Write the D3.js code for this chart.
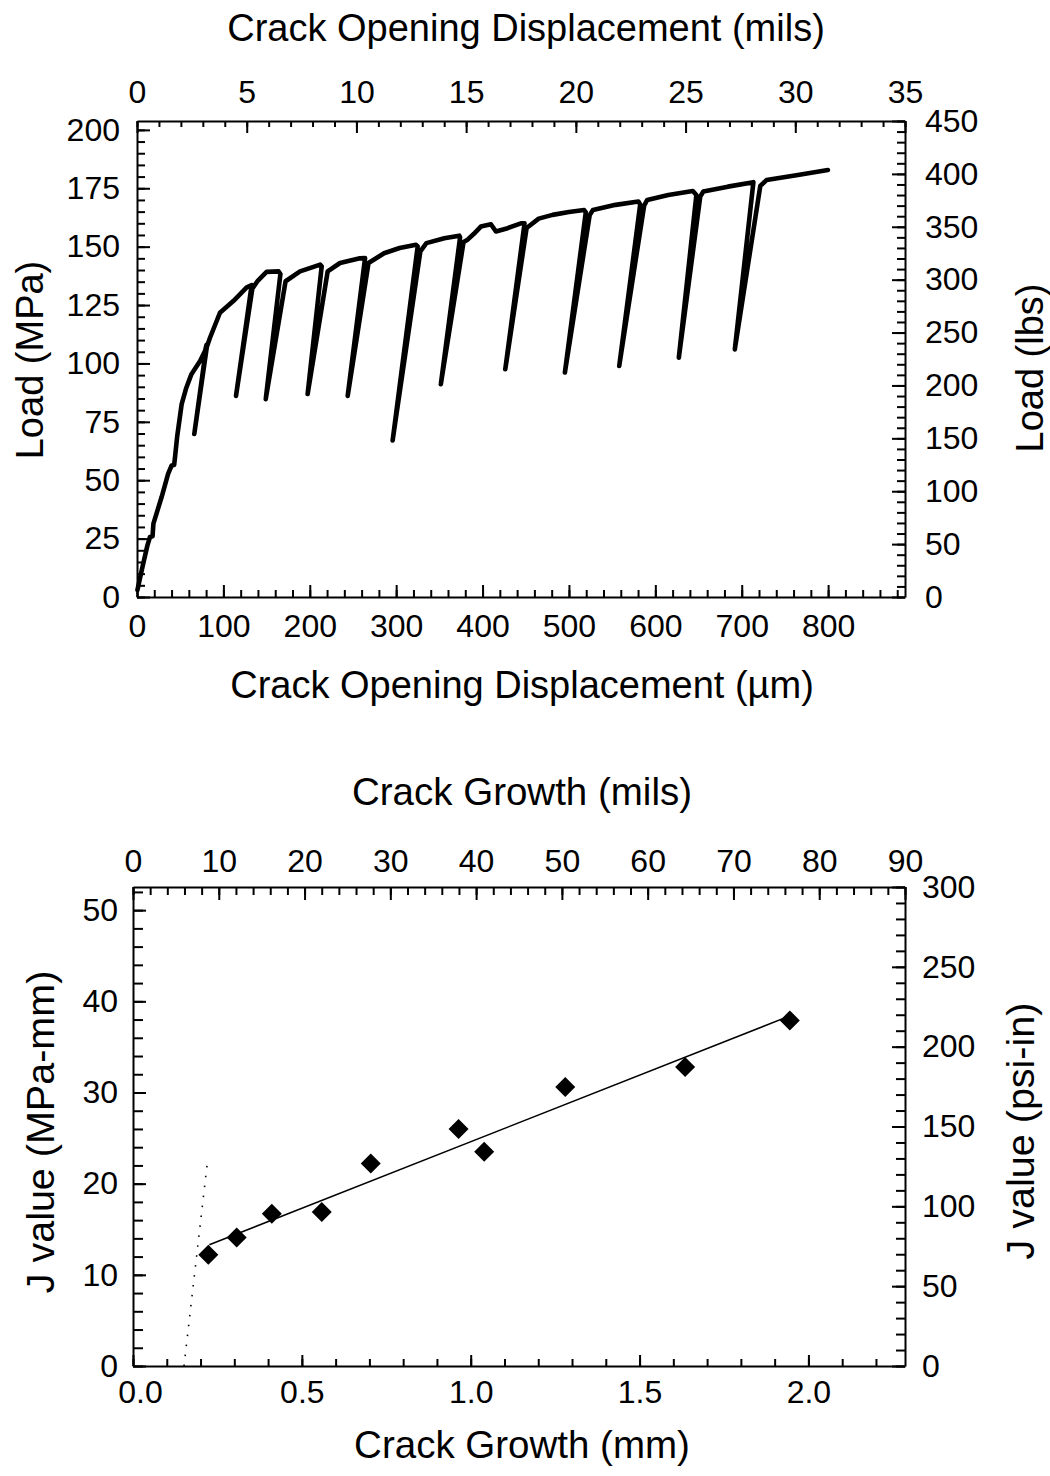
<!DOCTYPE html>
<html><head><meta charset="utf-8">
<script src="https://cdn.jsdelivr.net/npm/d3@7"></script>
<style>
html,body{margin:0;padding:0;background:#fff;}
svg{display:block;}
text{font-family:"Liberation Sans", Arial, Helvetica, sans-serif; fill:#000;}
</style></head><body>
<svg id="chart" width="1050" height="1476"></svg>
<script>
// ---------- Top chart: Load vs Crack Opening Displacement ----------
// sequence of recorded points (um, MPa) incl. unload/reload excursions
const codUm = [0.5, 4, 7.3, 12, 15, 18, 19, 28.5, 36, 40, 43, 44, 46.6, 51.7, 57, 63, 73, 78.7, 80.5,
  66.3, 80.8, 84.5, 96, 111.5, 127, 132.7,
  114.6, 133.5, 140, 150, 164, 166,
  149, 172, 188.7, 200, 212, 213.8,
  197.5, 220.7, 235, 258, 264,
  243.9, 268, 286, 304, 323, 324.9,
  295.9, 328, 335, 355.7, 373, 374,
  351.7, 378, 382.7, 390, 398, 409.7, 415.5, 429, 444.4, 448.6,
  426.3, 451, 465, 481, 500, 517.6, 519.5,
  495.3, 524, 527.8, 554, 580.4, 582.5,
  558.2, 587, 590.6, 615, 643.4, 647.5,
  627.2, 652, 655.6, 684, 713.5,
  692, 721.5, 728.7, 765, 799.8];
const loadMPa = [3, 9, 14.4, 22, 25.7, 26, 31.4, 42.8, 52.7, 56.3, 56.5, 59.8, 69, 82.6, 89.5, 95.4, 101, 105.3, 108,
  69.8, 107, 111, 121.7, 126.7, 132.6, 133.5,
  86.1, 132, 135.5, 139.2, 139.4, 138.3,
  84.7, 135.2, 139.4, 140.8, 142.3, 141.6,
  86.9, 139.4, 143, 145, 145.1,
  86.1, 143, 147.2, 149.4, 150.8, 150.1,
  67, 148, 151.5, 153.6, 154.7, 154,
  91.1, 152, 153, 155.5, 158.6, 159.6, 156.5, 157.9, 160, 160,
  97.5, 158, 162, 163.6, 164.8, 165.7, 164.7,
  96.1, 163.5, 165.7, 167.9, 169.3, 168.1,
  98.9, 167.5, 170, 172.1, 173.8, 172.1,
  102.5, 171.5, 173.6, 175.7, 177.6,
  106, 176, 178.5, 180.7, 182.8];
const codTicksUm = [0, 100, 200, 300, 400, 500, 600, 700, 800];
const codTicksMils = [0, 5, 10, 15, 20, 25, 30, 35];
const loadTicksMPa = [0, 25, 50, 75, 100, 125, 150, 175, 200];
const loadTicksLbs = [0, 50, 100, 150, 200, 250, 300, 350, 400, 450];

// ---------- Bottom chart: J value vs Crack Growth ----------
const growthMm = [0.223, 0.307, 0.411, 0.559, 0.704, 0.964, 1.040, 1.280, 1.635, 1.945];
const jValue   = [12.2, 14.1, 16.7, 16.9, 22.2, 26.0, 23.5, 30.6, 32.8, 37.9];
const fitMm = [0.226, 1.945];
const fitJ  = [13.3, 38.4];
const bluntMm = [0.151, 0.221];
const bluntJ  = [0, 22.6];
const growthTicksMm = [0, 0.5, 1.0, 1.5, 2.0];
const growthTicksMils = [0, 10, 20, 30, 40, 50, 60, 70, 80, 90];
const jTicksMPa = [0, 10, 20, 30, 40, 50];
const jTicksPsi = [0, 50, 100, 150, 200, 250, 300];

const svg = d3.select("#chart");
const TICK_FS = 32, TITLE_FS = 38;

function range(a, b, s) { const r = []; for (let v = a; v <= b + 1e-9; v += s) r.push(+v.toFixed(6)); return r; }

function drawAxis(gen, scale, translate, majors, minors, majLen, minLen, fmt, pad) {
  const gMin = svg.append("g").attr("transform", translate)
    .call(gen(scale).tickValues(minors).tickSize(-minLen).tickSizeOuter(0).tickFormat(""));
  gMin.select(".domain").remove();
  const g = svg.append("g").attr("transform", translate)
    .call(gen(scale).tickValues(majors).tickSize(-majLen).tickSizeOuter(0).tickFormat(fmt).tickPadding(pad));
  [gMin, g].forEach(a => {
    a.selectAll("line").attr("stroke", "#000").attr("stroke-width", 2);
    a.selectAll(".domain").attr("stroke", "#000").attr("stroke-width", 2);
    a.selectAll("text").attr("font-size", TICK_FS).attr("font-family", null).attr("fill", "#000");
  });
  return g;
}

function title(txt, x, y, rot, fs) {
  svg.append("text").attr("transform", `translate(${x},${y})` + (rot ? ` rotate(${rot})` : ""))
    .attr("text-anchor", "middle").attr("font-size", fs || TITLE_FS).text(txt);
}

// ===== Top chart =====
const T = {l: 137, r: 905, t: 121, b: 597};
const xUm = d3.scaleLinear().domain([0, 35 * 25.4]).range([T.l, T.r]);
const xMils = d3.scaleLinear().domain([0, 35]).range([T.l, T.r]);
const yMPa = d3.scaleLinear().domain([0, 203.8]).range([T.b, T.t]);
const yLbs = d3.scaleLinear().domain([0, 450]).range([T.b, T.t]);

drawAxis(d3.axisBottom, xUm, `translate(0,${T.b})`, codTicksUm, range(0, 880, 20), 12, 7, d3.format("d"), 17);
drawAxis(d3.axisTop, xMils, `translate(0,${T.t})`, codTicksMils, range(0, 35, 1), 12, 6, d3.format("d"), 18);
drawAxis(d3.axisLeft, yMPa, `translate(${T.l},0)`, loadTicksMPa, range(0, 200, 5), 13, 8, d3.format("d"), 17);
drawAxis(d3.axisRight, yLbs, `translate(${T.r},0)`, loadTicksLbs, range(0, 450, 10), 13, 8, d3.format("d"), 20);

const curvePts = codUm.map((c, i) => [xUm(c), yMPa(loadMPa[i])]);
svg.append("path").attr("d", d3.line()(curvePts))
  .attr("fill", "none").attr("stroke", "#000").attr("stroke-width", 4.6)
  .attr("stroke-linejoin", "round").attr("stroke-linecap", "round");

title("Crack Opening Displacement (mils)", 526, 41);
title("Crack Opening Displacement (\u00b5m)", 522, 698);
title("Load (MPa)", 43, 360, -90);
title("Load (lbs)", 1043, 368, -90);

// ===== Bottom chart =====
const B = {l: 133, r: 905, t: 887, b: 1366};
const xMm = d3.scaleLinear().domain([0, 90 * 0.0254]).range([B.l, B.r]);
const xMil2 = d3.scaleLinear().domain([0, 90]).range([B.l, B.r]);
const yJ = d3.scaleLinear().domain([0, 300 * 0.17513]).range([B.b, B.t]);
const yPsi = d3.scaleLinear().domain([0, 300]).range([B.b, B.t]);

const gxb = drawAxis(d3.axisBottom, xMm, `translate(0,${B.b})`, growthTicksMm, range(0, 2.2, 0.1), 11, 7, d3.format(".1f"), 14);
// keep the first label clear of the left axis "0"
gxb.selectAll(".tick").filter(d => d === 0).select("text").attr("dx", 7);
drawAxis(d3.axisTop, xMil2, `translate(0,${B.t})`, growthTicksMils, range(0, 90, 2), 13, 8, d3.format("d"), 15);
drawAxis(d3.axisLeft, yJ, `translate(${B.l},0)`, jTicksMPa, range(0, 52, 2), 13, 10, d3.format("d"), 15);
drawAxis(d3.axisRight, yPsi, `translate(${B.r},0)`, jTicksPsi, range(0, 300, 10), 13, 9, d3.format("d"), 17);

svg.append("path").attr("d", d3.line()(bluntMm.map((m, i) => [xMm(m), yJ(bluntJ[i])])))
  .attr("fill", "none").attr("stroke", "#000").attr("stroke-width", 1.6)
  .attr("stroke-dasharray", "1.5,8.5");
svg.append("path").attr("d", d3.line()(fitMm.map((m, i) => [xMm(m), yJ(fitJ[i])])))
  .attr("fill", "none").attr("stroke", "#000").attr("stroke-width", 1.5);

svg.append("g").selectAll("path").data(growthMm).join("path")
  .attr("d", d3.symbol().type(d3.symbolSquare).size(200))
  .attr("transform", (d, i) => `translate(${xMm(d)},${yJ(jValue[i])}) rotate(45)`)
  .attr("fill", "#000");

title("Crack Growth (mils)", 522, 805, 0, 38.5);
title("Crack Growth (mm)", 522, 1458, 0, 38.5);
title("J value (MPa-mm)", 54, 1132, -90, 39.5);
title("J value (psi-in)", 1034, 1131, -90, 39.5);
</script>
</body></html>
